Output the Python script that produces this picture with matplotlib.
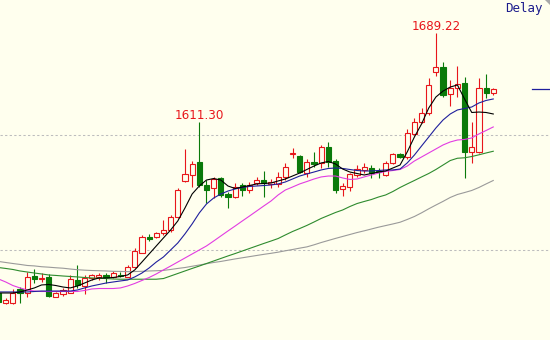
import numpy as np
import matplotlib
matplotlib.use("Agg")
import matplotlib.pyplot as plt
from matplotlib.patches import Rectangle, Polygon

# ---- data (price values, one entry per daily candle, oldest first) ----
opens = [1462.5, 1453.8, 1454.0, 1465.7, 1462.2, 1477.6, 1474.7, 1476.2, 1459.3, 1461.6,
         1462.8, 1473.8, 1468.9, 1475.6, 1476.5, 1477.8, 1476.7, 1478.2, 1476.7, 1485.4,
         1497.6, 1510.9, 1511.1, 1514.6, 1517.4, 1529.0, 1560.2, 1565.4, 1577.0, 1556.7,
         1553.8, 1562.5, 1548.8, 1546.0, 1556.7, 1552.3, 1558.2, 1561.0, 1557.6, 1557.6,
         1563.4, 1583.3, 1582.0, 1566.9, 1576.7, 1575.6, 1590.1, 1577.9, 1552.9, 1555.2,
         1565.4, 1569.8, 1571.2, 1569.3, 1565.4, 1576.1, 1583.3, 1580.8, 1601.2, 1611.9,
         1619.2, 1655.5, 1659.8, 1636.0, 1641.0, 1645.4, 1585.7, 1585.7, 1641.0, 1637.2]
closes = [1454.7, 1456.4, 1462.8, 1462.2, 1476.7, 1474.5, 1475.6, 1459.9, 1462.2, 1465.1,
          1474.5, 1469.2, 1475.3, 1477.8, 1478.6, 1476.5, 1479.7, 1477.3, 1485.4, 1499.1,
          1511.6, 1509.6, 1514.6, 1517.4, 1529.0, 1552.3, 1566.3, 1575.0, 1556.7, 1552.3,
          1561.9, 1548.0, 1546.5, 1555.2, 1552.3, 1556.7, 1561.0, 1558.2, 1559.3, 1563.4,
          1572.1, 1584.1, 1568.3, 1577.0, 1575.0, 1590.1, 1577.0, 1552.3, 1555.8, 1566.3,
          1570.4, 1572.6, 1567.4, 1568.0, 1576.1, 1583.7, 1580.8, 1601.8, 1611.9, 1619.7,
          1643.9, 1659.8, 1635.2, 1641.0, 1644.8, 1585.7, 1590.1, 1641.0, 1637.2, 1640.1]
highs = [1464.2, 1458.1, 1466.0, 1467.7, 1481.1, 1483.4, 1480.2, 1479.1, 1463.6, 1466.6,
         1478.2, 1486.9, 1478.2, 1479.1, 1480.2, 1479.9, 1481.7, 1481.1, 1486.9, 1501.5,
         1513.1, 1514.0, 1515.7, 1526.2, 1530.5, 1553.8, 1587.8, 1577.9, 1611.30, 1561.0,
         1563.4, 1563.4, 1550.8, 1558.2, 1558.2, 1559.6, 1563.9, 1569.1, 1561.6, 1568.3,
         1576.1, 1588.7, 1582.8, 1579.1, 1585.7, 1591.6, 1594.4, 1579.1, 1558.2, 1567.4,
         1574.1, 1576.1, 1574.1, 1571.2, 1577.9, 1584.8, 1584.6, 1605.3, 1615.1, 1623.6,
         1649.7, 1689.22, 1664.2, 1648.2, 1660.4, 1650.6, 1611.9, 1649.7, 1653.5, 1641.0]
lows = [1452.9, 1452.9, 1452.9, 1453.8, 1459.3, 1471.2, 1472.4, 1458.8, 1459.0, 1460.2,
        1462.2, 1466.6, 1461.4, 1473.8, 1473.8, 1471.2, 1475.6, 1476.2, 1476.2, 1484.0,
        1497.1, 1508.1, 1510.2, 1513.1, 1516.0, 1527.6, 1559.6, 1555.2, 1555.2, 1540.7,
        1545.1, 1546.5, 1536.4, 1545.1, 1547.1, 1549.4, 1556.7, 1546.0, 1553.8, 1555.2,
        1561.0, 1580.0, 1566.9, 1563.9, 1572.6, 1571.2, 1572.6, 1549.4, 1547.1, 1551.7,
        1563.9, 1566.9, 1562.5, 1562.5, 1564.5, 1575.0, 1579.8, 1579.1, 1600.3, 1610.5,
        1617.7, 1651.7, 1633.7, 1625.6, 1633.7, 1562.5, 1575.6, 1584.3, 1632.3, 1635.2]

ma5 = [1462.5, 1462.5, 1462.5, 1463.4, 1465.1, 1466.9, 1469.5, 1469.9, 1469.0, 1467.7,
       1466.9, 1468.6, 1471.2, 1473.8, 1475.6, 1475.6, 1476.0, 1476.9, 1478.2, 1482.6,
       1489.5, 1496.5, 1503.5, 1510.5, 1517.4, 1525.3, 1536.6, 1548.8, 1555.8, 1561.0,
       1562.3, 1561.0, 1555.8, 1553.6, 1554.9, 1556.2, 1557.6, 1558.0, 1558.4, 1560.2,
       1561.9, 1564.5, 1567.1, 1570.2, 1573.2, 1575.9, 1577.2, 1575.0, 1570.6, 1568.0,
       1566.7, 1565.4, 1566.7, 1568.0, 1568.9, 1571.5, 1574.1, 1585.5, 1598.5, 1609.9,
       1623.8, 1633.4, 1638.6, 1642.1, 1643.9, 1631.7, 1619.9, 1620.3, 1619.9, 1618.6]
ma10 = [1463.4, 1463.4, 1463.4, 1463.4, 1463.4, 1463.8, 1464.2, 1464.2, 1464.2, 1464.2,
        1464.2, 1465.1, 1466.9, 1468.6, 1469.9, 1471.2, 1472.1, 1473.0, 1473.8, 1476.5,
        1479.9, 1484.3, 1489.5, 1493.9, 1500.0, 1506.1, 1514.0, 1522.7, 1532.3, 1540.1,
        1545.3, 1548.8, 1551.4, 1553.2, 1554.5, 1555.4, 1555.8, 1556.2, 1556.7, 1557.6,
        1559.3, 1561.9, 1564.5, 1566.3, 1568.0, 1569.8, 1571.1, 1571.5, 1571.1, 1570.2,
        1569.3, 1568.9, 1568.9, 1569.3, 1569.8, 1569.8, 1570.6, 1575.9, 1582.8, 1590.7,
        1598.5, 1606.4, 1613.4, 1618.6, 1622.1, 1623.4, 1624.7, 1628.2, 1630.4, 1631.7]
ma20 = [1474.7, 1472.1, 1469.0, 1466.9, 1465.1, 1464.2, 1463.8, 1463.8, 1463.8, 1463.8,
        1463.8, 1463.8, 1464.7, 1466.0, 1466.4, 1466.4, 1466.4, 1466.9, 1468.6, 1470.8,
        1473.4, 1476.0, 1479.1, 1482.6, 1486.0, 1489.5, 1493.0, 1496.5, 1500.0, 1503.5,
        1507.8, 1512.2, 1516.6, 1520.9, 1525.3, 1529.6, 1534.0, 1538.4, 1542.7, 1548.0,
        1552.3, 1554.9, 1557.6, 1559.7, 1561.9, 1563.7, 1564.5, 1564.5, 1562.8, 1561.5,
        1561.9, 1563.7, 1565.4, 1567.1, 1568.5, 1569.3, 1570.2, 1573.2, 1577.6, 1581.1,
        1584.6, 1588.1, 1591.6, 1594.2, 1595.9, 1596.4, 1597.7, 1601.2, 1604.2, 1607.3]
ma60 = [1484.7, 1483.9, 1483.0, 1481.7, 1480.8, 1479.9, 1479.1, 1478.2, 1477.8, 1477.3,
        1476.9, 1476.5, 1476.0, 1475.6, 1475.3, 1475.1, 1474.7, 1474.5, 1474.5, 1474.5,
        1474.5, 1474.5, 1474.5, 1475.1, 1477.3, 1479.5, 1481.7, 1483.9, 1486.0, 1488.2,
        1490.4, 1492.6, 1494.8, 1496.9, 1499.1, 1501.3, 1503.5, 1505.7, 1507.8, 1510.0,
        1513.1, 1516.1, 1518.7, 1521.4, 1524.4, 1527.5, 1530.1, 1532.7, 1534.9, 1537.9,
        1540.5, 1542.3, 1544.0, 1546.2, 1548.0, 1551.0, 1554.5, 1557.6, 1560.6, 1563.7,
        1566.7, 1570.2, 1574.1, 1578.0, 1580.0, 1580.4, 1581.5, 1583.0, 1584.6, 1586.1]
ma120 = [1490.0, 1489.1, 1488.2, 1487.4, 1486.5, 1486.1, 1485.4, 1485.0, 1484.5, 1484.1,
         1483.4, 1482.8, 1482.4, 1482.1, 1481.9, 1481.7, 1481.4, 1481.3, 1481.1, 1481.2,
         1481.4, 1481.7, 1481.9, 1482.2, 1483.0, 1483.9, 1484.7, 1485.8, 1486.9, 1488.0,
         1489.1, 1490.0, 1491.1, 1492.2, 1493.2, 1494.2, 1495.2, 1496.2, 1497.1, 1498.1,
         1499.3, 1500.4, 1501.6, 1502.7, 1504.5, 1506.5, 1508.3, 1510.1, 1511.8, 1513.5,
         1515.2, 1516.7, 1518.3, 1519.9, 1521.3, 1522.7, 1524.2, 1526.6, 1529.2, 1532.4,
         1535.9, 1539.2, 1542.4, 1545.8, 1548.4, 1550.1, 1551.9, 1554.5, 1557.6, 1560.6]

gridlines = [1500, 1600]
labelled_highs = [28, 61]   # candles whose high is printed
status_text = "Delay"

# ---- style ----
BG = "#FFFFEE"
UP = "#E8161B"
DOWN = "#0A7A0A"

fig = plt.figure(figsize=(5.5, 3.4), dpi=100, facecolor=BG)
ax = fig.add_axes([0, 0, 1, 1], facecolor=BG)
ax.set_axis_off()

n = len(opens)
xs = np.arange(n)
px = 7.17  # pixels per candle
ax.set_xlim(1.47 / px, 1.47 / px + 550 / px)
ax.set_ylim(1421.5, 1718.0)

for g in gridlines:
    ax.axhline(g, color="#BDBDBD", lw=0.75, ls=(0, (2.2, 2.2)), zorder=1)

bw = 0.72
min_h = 0.9
for x, o, h, l, c in zip(xs, opens, highs, lows, closes):
    up = c >= o
    col = UP if up else DOWN
    ax.plot([x, x], [l, h], color=col, lw=0.8, zorder=2, solid_capstyle="butt")
    bottom = min(o, c)
    height = max(abs(c - o), min_h)
    if up:
        rect = Rectangle((x - bw / 2, bottom), bw, height, facecolor=BG,
                         edgecolor=col, lw=0.8, zorder=2.5)
    else:
        rect = Rectangle((x - bw / 2, bottom), bw, height, facecolor=col,
                         edgecolor=col, lw=0.8, zorder=2.5)
    ax.add_patch(rect)

ax.plot(xs, ma120, color="#9A9A9A", lw=0.8, zorder=3)
ax.plot(xs, ma60, color="#2E8B2E", lw=0.8, zorder=3)
ax.plot(xs, ma20, color="#E23CE2", lw=0.8, zorder=3)
ax.plot(xs, ma10, color="#1F1F9C", lw=0.8, zorder=3)
ax.plot(xs, ma5, color="#000000", lw=0.8, zorder=3)

for k in labelled_highs:
    ax.annotate(f"{highs[k]:.2f}", xy=(xs[k], highs[k]), xytext=(0, 2.4),
                textcoords="offset points", ha="center", va="baseline",
                color=UP, fontsize=8.6, family="DejaVu Sans", zorder=4)

# current price marker at the right edge
x_end = ax.get_xlim()[1]
ax.plot([xs[-1] + 5.4, x_end], [closes[-1], closes[-1]], color="#1F1F9C",
        lw=0.9, zorder=3)

fig.text(0.953, 0.976, status_text, color="#1C1C8C", fontsize=9,
         family="DejaVu Sans Mono", ha="center", va="center")

tri = Polygon([(545 / 550, 1.0), (1.0, 1.0), (1.0, 1 - 5 / 340)], closed=True,
              transform=fig.transFigure, facecolor="#A8A8A8", edgecolor="none")
fig.patches.append(tri)

fig.savefig("out.png", dpi=100, facecolor=BG)
